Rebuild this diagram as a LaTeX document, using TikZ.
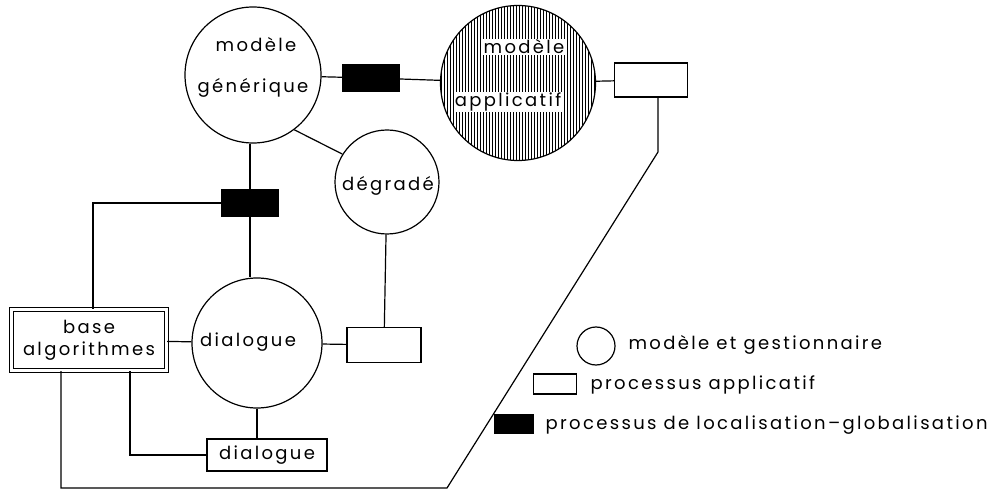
\documentclass[tikz,border=0pt]{standalone}
\usepackage{fontspec}
\setmainfont{Poppins}[LetterSpace=13]
\begin{document}
\begin{tikzpicture}[x=1pt,y=-1pt,
    line width=1.2pt,
    modele/.style={draw,circle,inner sep=0pt},
    procbox/.style={draw,rectangle,inner sep=0pt},
    locbox/.style={draw,fill=black,rectangle,inner sep=0pt,minimum width=56pt,minimum height=26pt},
    lbl/.style={font=\fontsize{18}{22}\selectfont,inner sep=1pt}]
  \useasboundingbox (0,0) rectangle (1006,494);
  % modeles
  \node[modele,minimum size=136pt] (gen) at (253,75) {};
  \node[lbl] (gentxtA) at (256,45) {modèle};
  \node[lbl] (gentxtB) at (253,88) {générique};
  \node[modele,minimum size=155pt,
    path picture={\foreach \x in {-80,-77,...,80}
      \draw[line width=1pt] ([xshift=\x pt]path picture bounding box.north)
        -- ([xshift=\x pt]path picture bounding box.south);}] (app) at (518,83) {};
  \node[lbl,fill=white] (apptxtA) at (524,47) {modèle};
  \node[lbl,fill=white] (apptxtB) at (508,102) {applicatif};
  \node[modele,minimum size=104pt] (deg) at (387,182) {};
  \node[lbl] (degtxt) at (388,186) {dégradé};
  \node[modele,minimum size=130pt] (dia) at (257,343) {};
  \node[lbl] (diatxt) at (248,342) {dialogue};
  % processus
  \node[locbox] (locA) at (371,78) {};
  \node[locbox] (locB) at (250,203) {};
  \node[procbox,minimum width=73pt,minimum height=34pt] (procA) at (651,80) {};
  \node[procbox,minimum width=74pt,minimum height=35pt] (procB) at (384,345) {};
  \node[procbox,minimum width=120pt,minimum height=32pt,lbl] (diabox) at (267,455) {dialogue};
  \node[procbox,double,double distance=3pt,minimum width=155pt,minimum height=61pt,
    lbl,align=center] (base) at (89,340) {base\\algorithmes};
  % liens
  \draw (gen) -- (locA);
  \draw (locA) -- (app);
  \draw (app) -- (procA);
  \draw (gen.south -| locB) -- (locB);
  \draw (locB) -- (locB |- dia.north);
  \draw (locB.west) -| ([xshift=4pt]base.north);
  \draw (gen.-53) -- (deg.148);
  \draw (deg) -- (procB);
  \draw (dia) -- (procB);
  \draw (base) -- (dia);
  \draw (dia.south) -- (dia.south |- diabox.north);
  \draw ([xshift=41pt]base.south) |- (diabox.west);
  \coordinate (bendA) at (447,488);
  \coordinate (bendB) at (658,152);
  \draw ([xshift=-28pt]base.south) |- (bendA) -- (bendB) -- (bendB |- procA.south);
  % legende
  \node[modele,minimum size=38pt] (legcirc) at (596,346) {};
  \node[lbl,anchor=west] (legcirctxt) at (627,345) {modèle et gestionnaire};
  \node[procbox,minimum width=43pt,minimum height=20pt] (legproc) at (555,384) {};
  \node[lbl,anchor=west] (legproctxt) at (589,385) {processus applicatif};
  \node[locbox,minimum width=38pt,minimum height=18pt] (legloc) at (514,424) {};
  \node[lbl,anchor=west] (leglocttxt) at (544,425) {processus de localisation–globalisation};
\end{tikzpicture}
\end{document}
